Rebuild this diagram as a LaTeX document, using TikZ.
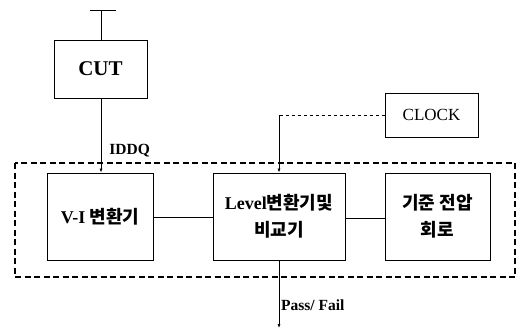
\documentclass[tikz,border=0pt]{standalone}
\usepackage{fontspec}
\setmainfont{Liberation Serif}
\newfontfamily\kr{Noto Sans CJK KR}
\usetikzlibrary{arrows.meta}
\begin{document}
\begin{tikzpicture}[x=1pt,y=-1pt,
  blk/.style={draw,line width=0.8pt,inner sep=0pt},
  conn/.style={line width=0.7pt},
  arr/.style={line width=0.7pt,-{Latex[length=4pt,width=3pt]}},
  krt/.style={font=\kr\bfseries\fontsize{18}{27}\selectfont,align=center},
  lab/.style={font=\bfseries\fontsize{15.5}{15.5}\selectfont,anchor=west,inner sep=0pt}]
\useasboundingbox (0,0) rectangle (521,331);
% outer dashed box
\draw[line width=1.1pt,dash pattern=on 6pt off 3.5pt] (15,163) rectangle (515,277);
% blocks
\node[blk,minimum width=93pt,minimum height=58pt] (cut) at (100.5,69) {};
\node[font=\bfseries\fontsize{21}{21}\selectfont] at (cut.center) {CUT};
\coordinate (top) at (101,10);
\draw[conn] (top) -- (cut.north -| top);
\draw[conn] (90,10) -- (116,10);
\node[blk,minimum width=106pt,minimum height=87pt] (vi) at (100,216.5) {};
\node[krt] at (vi.center) {{\rmfamily V-I} 변환기};
\node[blk,minimum width=132pt,minimum height=87pt] (lvl) at (279,216.5) {};
\node[krt] at (lvl.center) {{\rmfamily Level}변환기및\\비교기};
\node[blk,minimum width=105pt,minimum height=87pt] (ref) at (437.5,216.5) {};
\node[krt] at (ref.center) {기준 전압\\회로};
\node[blk,minimum width=93pt,minimum height=44pt] (clk) at (431.5,115) {};
\node[font=\fontsize{17}{17}\selectfont] at (clk.center) {CLOCK};
% connectors
\draw[arr] (cut.south -| top) -- (vi.north -| top) node[pos=0.7,lab,xshift=8pt] {IDDQ};
\coordinate (ck) at (279,115);
\draw[conn,dashed] (clk.west) -- (ck);
\draw[arr] (ck) -- (lvl.north);
\draw[conn] (vi.east |- 0,217) -- (lvl.west |- 0,217);
\draw[conn] (lvl.east |- 0,218) -- (ref.west |- 0,218);
\coordinate (pf) at (279,328);
\draw[arr] (lvl.south) -- (pf);
\node[lab,xshift=2pt] at (279,305) {Pass/ Fail};
\end{tikzpicture}
\end{document}
